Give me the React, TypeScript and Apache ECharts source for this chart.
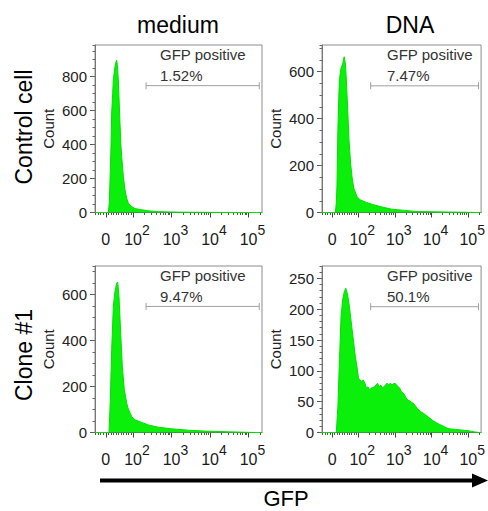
import React, { useEffect, useRef } from 'react';
import * as echarts from 'echarts';

// ---------- data ----------
const columnTitles = ['medium', 'DNA'];
const rowTitles = ['Control cell', 'Clone #1'];
const axisTitle = 'GFP';
const countLabel = 'Count';
const gateName = 'GFP positive';
const gatePercents = ['1.52%', '7.47%', '9.47%', '50.1%'];
const countMax = [985, 714, 725, 270];
const countStep = [200, 200, 200, 50];
const countMinorStep = [50, 50, 50, 10];
// gate in display units (decades of GFP, biexponential display)
const gateRange = [2.34, 5.28];
const gateHeight = [746, 540, 549, 204];
const displayMin = 1.013;
const displayMax = 5.351;
const xTickPositions = [1.294, 2, 3, 4, 5];
const xTickBases = ['0', '10', '10', '10', '10'];
const xTickExponents = ['', '2', '3', '4', '5'];

// histograms: [display position, count]
const controlMedium: [number, number][] = [
  [1.013, 0], [1.359, 0], [1.385, 60], [1.403, 190], [1.429, 390], [1.446, 585], [1.472, 700],
  [1.489, 780], [1.532, 858], [1.558, 885], [1.576, 895], [1.593, 870], [1.619, 780], [1.636, 682],
  [1.662, 525], [1.688, 388], [1.706, 330], [1.749, 212], [1.792, 133], [1.836, 84], [1.879, 55],
  [1.965, 35], [2.052, 23], [2.225, 16], [2.398, 10], [2.658, 5], [3.177, 2], [3.87, 1], [4.649, 0],
  [5.351, 0],
];
const controlDNA: [number, number][] = [
  [1.013, 0], [1.377, 0], [1.403, 40], [1.42, 111], [1.446, 354], [1.472, 500], [1.489, 567],
  [1.532, 617], [1.576, 632], [1.602, 655], [1.619, 664], [1.645, 640], [1.662, 610], [1.706, 467],
  [1.749, 311], [1.792, 211], [1.836, 147], [1.879, 104], [1.965, 68], [2.052, 54], [2.225, 43],
  [2.398, 34], [2.658, 23], [2.918, 14], [3.264, 9], [3.61, 4], [4.476, 2], [5.299, 0], [5.351, 0],
];
const cloneMedium: [number, number][] = [
  [1.013, 0], [1.377, 0], [1.411, 142], [1.446, 360], [1.489, 549], [1.532, 614], [1.576, 650],
  [1.602, 655], [1.636, 593], [1.68, 433], [1.723, 287], [1.775, 186], [1.836, 128], [1.879, 102],
  [1.965, 70], [2.052, 55], [2.225, 44], [2.398, 33], [2.658, 23], [3.004, 16], [3.437, 10],
  [3.87, 6], [4.476, 3], [5.169, 0], [5.351, 0],
];
const cloneDNA: [number, number][] = [
  [1.013, 0], [1.403, 0], [1.446, 42], [1.489, 118], [1.532, 188], [1.576, 215], [1.619, 228],
  [1.662, 234], [1.706, 225], [1.749, 209], [1.792, 188], [1.836, 166], [1.879, 145], [1.922, 123],
  [1.965, 107], [2.009, 88], [2.052, 85], [2.095, 83], [2.139, 85], [2.182, 80], [2.225, 72],
  [2.268, 74], [2.312, 69], [2.355, 72], [2.398, 73], [2.442, 74], [2.485, 77], [2.528, 80],
  [2.571, 74], [2.615, 77], [2.658, 72], [2.701, 74], [2.745, 77], [2.788, 80], [2.831, 77],
  [2.875, 80], [2.918, 77], [2.961, 79], [3.004, 80], [3.048, 77], [3.091, 74], [3.134, 72],
  [3.177, 66], [3.221, 64], [3.264, 61], [3.307, 56], [3.351, 53], [3.437, 50], [3.524, 46],
  [3.61, 39], [3.697, 34], [3.784, 31], [3.87, 27], [3.957, 23], [4.043, 19], [4.13, 16],
  [4.216, 13], [4.303, 11], [4.39, 8], [4.476, 6], [4.649, 5], [4.822, 4], [4.996, 3],
  [5.169, 1], [5.299, 0], [5.351, 0],
];
const histograms = [controlMedium, controlDNA, cloneMedium, cloneDNA];

// ---------- layout ----------
const FONT = '"Liberation Sans", Arial, Helvetica, sans-serif';
const PANELS = [
  { left: 95, top: 45, width: 167, height: 167.5 },
  { left: 322, top: 45, width: 165, height: 167.5 },
  { left: 95, top: 266, width: 167, height: 166.5 },
  { left: 322, top: 266, width: 165, height: 166.5 },
];

const xMinorTicks: number[] = [];
for (let k = -4; k <= 10; k++) {
  const t = xTickPositions[0] + k * 0.066;
  if (k !== 0 && t > displayMin && t < 1.97) xMinorTicks.push(+t.toFixed(4));
}
for (let n = 2; n <= 4; n++) {
  for (let m = 2; m <= 9; m++) xMinorTicks.push(n + Math.log10(m));
}
xMinorTicks.push(5 + Math.log10(2));

function buildOption() {
  const grid: any[] = [];
  const xAxis: any[] = [];
  const yAxis: any[] = [];
  const series: any[] = [];
  const graphic: any[] = [];

  PANELS.forEach((p, i) => {
    grid.push({
      left: p.left, top: p.top, width: p.width, height: p.height,
      show: true, borderColor: '#8c8c8c', borderWidth: 1, backgroundColor: 'transparent',
    });
    xAxis.push({
      type: 'value', gridIndex: i, position: 'bottom', min: displayMin, max: displayMax,
      axisLine: { show: true, onZero: false, lineStyle: { color: '#555', width: 1 } },
      axisTick: { show: true, customValues: xTickPositions, length: 5, lineStyle: { color: '#444' } },
      splitLine: { show: false },
      axisLabel: {
        show: true, customValues: xTickPositions, margin: 14,
        formatter: (v: number) => {
          let idx = 0;
          xTickPositions.forEach((pos, j) => { if (Math.abs(pos - v) < 1e-6) idx = j; });
          if (!xTickExponents[idx]) return `{b|${xTickBases[idx]}}`;
          return `{p|}{b|${xTickBases[idx]}}{s|${xTickExponents[idx]}}`;
        },
        rich: {
          b: { fontSize: 16, fontFamily: FONT, color: '#1a1a1a', lineHeight: 16, padding: [10, 0, 0, 0] },
          s: { fontSize: 14, fontFamily: FONT, color: '#1a1a1a', lineHeight: 14, padding: [0, 0, 10, 0] },
          p: { width: 8 },
        },
      },
    });
    xAxis.push({
      type: 'value', gridIndex: i, position: 'bottom', min: displayMin, max: displayMax,
      axisLine: { show: false },
      axisTick: { show: true, customValues: xMinorTicks, length: 2.5, lineStyle: { color: '#555' } },
      axisLabel: { show: false },
      splitLine: { show: false },
    });
    yAxis.push({
      type: 'value', gridIndex: i, position: 'left', min: 0, max: countMax[i], interval: countStep[i],
      axisLine: { show: true, lineStyle: { color: '#777', width: 1 } },
      axisTick: { show: true, length: 5, lineStyle: { color: '#555' } },
      splitLine: { show: false },
      axisLabel: { show: true, showMaxLabel: false, margin: 8, fontSize: 15, fontFamily: FONT, color: '#222' },
    });
    yAxis.push({
      type: 'value', gridIndex: i, position: 'left', min: 0, max: countMax[i], interval: countMinorStep[i],
      axisLine: { show: false },
      axisTick: { show: true, length: 2.5, lineStyle: { color: '#666' } },
      splitLine: { show: false },
      axisLabel: { show: false },
    });
    series.push({
      type: 'line', xAxisIndex: 2 * i, yAxisIndex: 2 * i, data: histograms[i],
      symbol: 'none', smooth: false, silent: true, z: 2,
      lineStyle: { color: '#00e000', width: 1 },
      areaStyle: { color: '#0af00a', opacity: 1 },
    });
    series.push({
      type: 'line', xAxisIndex: 2 * i, yAxisIndex: 2 * i,
      data: [[gateRange[0], gateHeight[i]], [gateRange[1], gateHeight[i]]],
      symbol: 'rect', symbolSize: [1, 7], showSymbol: true, silent: true, z: 3,
      lineStyle: { color: '#a0a0a0', width: 1 },
      itemStyle: { color: '#a0a0a0' },
    });
    graphic.push({
      type: 'text', x: p.left + 65, y: p.top + 9,
      style: { text: gateName, fontSize: 15, fontFamily: FONT, fill: '#333', align: 'left', verticalAlign: 'middle' },
    });
    graphic.push({
      type: 'text', x: p.left + 65, y: p.top + 30.5,
      style: { text: gatePercents[i], fontSize: 15, fontFamily: FONT, fill: '#333', align: 'left', verticalAlign: 'middle' },
    });
    graphic.push({
      type: 'text', x: p.left - 47, y: p.top + p.height / 2, rotation: Math.PI / 2,
      style: { text: countLabel, fontSize: 15, fontFamily: FONT, fill: '#222', align: 'center', verticalAlign: 'middle' },
    });
  });

  graphic.push({
    type: 'text', x: 178, y: 25,
    style: { text: columnTitles[0], fontSize: 23, fontFamily: FONT, fill: '#000', align: 'center', verticalAlign: 'middle' },
  });
  graphic.push({
    type: 'text', x: 410, y: 25,
    style: { text: columnTitles[1], fontSize: 23, fontFamily: FONT, fill: '#000', align: 'center', verticalAlign: 'middle' },
  });
  graphic.push({
    type: 'text', x: 24, y: 127, rotation: Math.PI / 2,
    style: { text: rowTitles[0], fontSize: 23, fontFamily: FONT, fill: '#000', align: 'center', verticalAlign: 'middle' },
  });
  graphic.push({
    type: 'text', x: 24, y: 355, rotation: Math.PI / 2,
    style: { text: rowTitles[1], fontSize: 23, fontFamily: FONT, fill: '#000', align: 'center', verticalAlign: 'middle' },
  });
  graphic.push({
    type: 'line', shape: { x1: 100, y1: 480.5, x2: 475, y2: 480.5 },
    style: { stroke: '#000', lineWidth: 4 },
  });
  graphic.push({
    type: 'polygon', shape: { points: [[472, 473.5], [488, 480.5], [472, 487.5]] },
    style: { fill: '#000' },
  });
  graphic.push({
    type: 'text', x: 286, y: 498,
    style: { text: axisTitle, fontSize: 22, fontFamily: FONT, fill: '#000', align: 'center', verticalAlign: 'middle' },
  });

  return {
    animation: false,
    backgroundColor: '#fff',
    grid, xAxis, yAxis, series, graphic,
  };
}

export default function App() {
  const ref = useRef<HTMLDivElement>(null);
  useEffect(() => {
    if (!ref.current) return;
    const chart = echarts.init(ref.current, null, { renderer: 'svg' });
    chart.setOption(buildOption() as any);
    return () => chart.dispose();
  }, []);
  return (
    <div
      ref={ref}
      style={{ position: 'fixed', left: 0, top: 0, width: 488, height: 511, background: '#fff' }}
    />
  );
}
